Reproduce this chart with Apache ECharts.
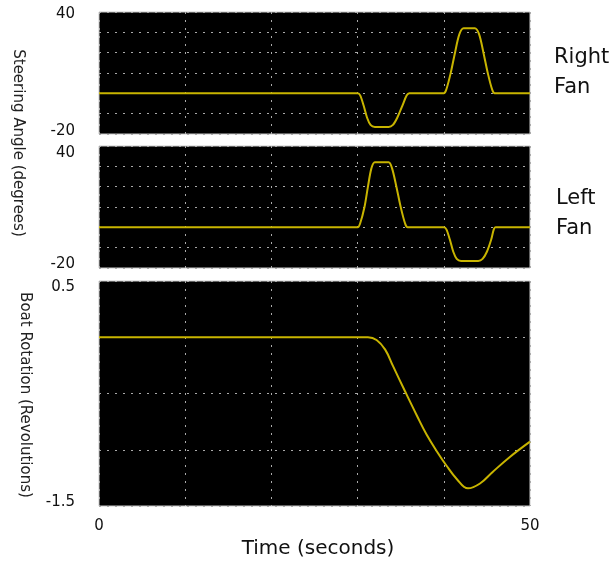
<!DOCTYPE html>
<html>
<head>
<meta charset="utf-8">
<script src="https://cdn.jsdelivr.net/npm/echarts@6/dist/echarts.min.js"></script>
<style>
html,body{margin:0;padding:0;background:#fff;}
#c{width:615px;height:567px;}
</style>
</head>
<body>
<div id="c"></div>
<script>
// Time axis
const timeRange = [0, 50];
const timeTickLabels = ['0', '50'];
// Right fan steering angle (degrees) [time, angle]
const rightFan = [[0,0],[30,0],[30.3,-1],[30.7,-6],[31.1,-12],[31.5,-15.5],[32,-16.5],[33.6,-16.5],[34.1,-15.5],[34.6,-12],[35.2,-6],[35.7,-1],[36,0],[40,0],[40.3,2],[40.8,10],[41.3,20],[41.8,29],[42.3,32],[43.6,32],[44.1,29],[44.6,20],[45.1,10],[45.6,2],[45.9,0],[50,0]];
// Left fan steering angle (degrees)
const leftFan = [[0,0],[30,0],[30.3,2],[30.8,10],[31.2,20],[31.6,29],[32,32],[33.6,32],[34,29],[34.5,20],[35,10],[35.5,2],[35.8,0],[40,0],[40.3,-1],[40.7,-6],[41.1,-12],[41.5,-15.5],[42,-16.5],[44,-16.5],[44.5,-15.5],[45,-12],[45.5,-6],[45.8,-1],[46,0],[50,0]];
// Boat rotation (revolutions)
const boatRotation = [[0,0],[30,0],[31.2,0],[32.2,-0.024],[33.2,-0.11],[34.1,-0.255],[35.5,-0.48],[36.9,-0.70],[38.0,-0.865],[39.2,-1.015],[40.3,-1.14],[41.5,-1.26],[42.8,-1.343],[44.2,-1.30],[45.7,-1.195],[47.7,-1.062],[50,-0.928]];
const steerRange = [-20, 40];
const steerTickLabels = ['-20', '40'];
const rotRange = [-1.5, 0.5];
const rotTickLabels = ['-1.5', '0.5'];

const FONT = '"DejaVu Sans", Verdana, sans-serif';
const LINE = '#c8b400';
const gridLine = {show:true, lineStyle:{color:'#aaa', type:[2,6], width:1}};

function xAx(idx, showLabels){
  return {
    type:'value', gridIndex: idx, min: timeRange[0], max: timeRange[1], interval: 10,
    axisLine:{show:false}, axisTick:{show:false},
    splitLine: gridLine,
    axisLabel:{show: showLabels, margin: 13, fontFamily: FONT, fontSize: 15, color:'#111',
      formatter: v => (timeTickLabels.indexOf(String(v)) >= 0 ? String(v) : '')}
  };
}
function yAx(idx, range, interval, labels, padTop, padBottom){
  return {
    type:'value', gridIndex: idx, min: range[0], max: range[1], interval: interval,
    axisLine:{show:false}, axisTick:{show:false},
    splitLine: gridLine,
    axisLabel:{margin: 24, fontFamily: FONT, fontSize: 15, color:'#111',
      formatter: v => {
        const s = String(v);
        if (s === labels[1]) return '{mx|' + s + '}';
        if (s === labels[0]) return '{mn|' + s + '}';
        return '';
      },
      rich: {
        mx: {fontFamily: FONT, fontSize: 15, color:'#111', padding:[padTop,0,0,0]},
        mn: {fontFamily: FONT, fontSize: 15, color:'#111', padding:[0,0,padBottom,0]}
      }
    }
  };
}

const chart = echarts.init(document.getElementById('c'), null, {renderer:'canvas'});
const gridBase = {left: 99, width: 431, show: true, backgroundColor:'#000', borderColor:'#c8c8c8', borderWidth:1};
chart.setOption({
  animation: false,
  backgroundColor: '#fff',
  grid: [
    Object.assign({top: 12, height: 122}, gridBase),
    Object.assign({top: 146, height: 122}, gridBase),
    Object.assign({top: 281, height: 225}, gridBase)
  ],
  xAxis: [xAx(0,false), xAx(1,false), xAx(2,true)],
  yAxis: [
    yAx(0, steerRange, 10, steerTickLabels, 4, 6),
    yAx(1, steerRange, 10, steerTickLabels, 14, 8),
    yAx(2, rotRange, 0.5, rotTickLabels, 13, 7)
  ],
  series: [
    {type:'line', xAxisIndex:0, yAxisIndex:0, data: rightFan, showSymbol:false, smooth:0.3, lineStyle:{color:LINE, width:2}},
    {type:'line', xAxisIndex:1, yAxisIndex:1, data: leftFan, showSymbol:false, smooth:0.3, lineStyle:{color:LINE, width:2}},
    {type:'line', xAxisIndex:2, yAxisIndex:2, data: boatRotation, showSymbol:false, smooth:0.4, lineStyle:{color:LINE, width:2}}
  ],
  graphic: [
    {type:'text', x: 18, y: 143, rotation: -Math.PI/2, style:{text:'Steering Angle (degrees)', font:'15px ' + FONT, fill:'#222', textAlign:'center', textVerticalAlign:'middle'}},
    {type:'text', x: 25, y: 395, rotation: -Math.PI/2, style:{text:'Boat Rotation (Revolutions)', font:'15px ' + FONT, fill:'#222', textAlign:'center', textVerticalAlign:'middle'}},
    {type:'text', x: 318, y: 549, style:{text:'Time (seconds)', font:'20px ' + FONT, fill:'#111', textAlign:'center', textVerticalAlign:'middle'}},
    {type:'text', x: 554, y: 58, style:{text:'Right', font:'21px ' + FONT, fill:'#111', textAlign:'left', textVerticalAlign:'middle'}},
    {type:'text', x: 554, y: 88, style:{text:'Fan', font:'21px ' + FONT, fill:'#111', textAlign:'left', textVerticalAlign:'middle'}},
    {type:'text', x: 556, y: 199, style:{text:'Left', font:'21px ' + FONT, fill:'#111', textAlign:'left', textVerticalAlign:'middle'}},
    {type:'text', x: 556, y: 229, style:{text:'Fan', font:'21px ' + FONT, fill:'#111', textAlign:'left', textVerticalAlign:'middle'}}
  ]
});
</script>
</body>
</html>
